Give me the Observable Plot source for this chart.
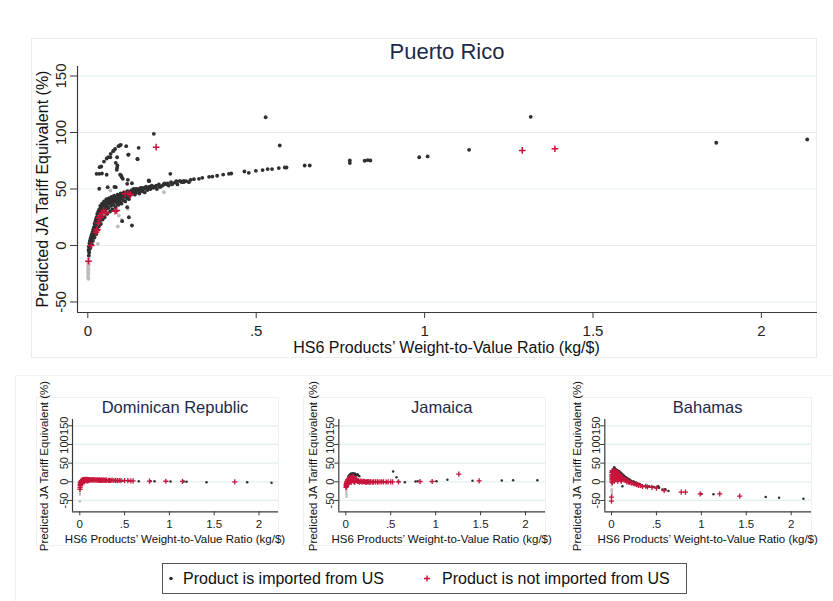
<!DOCTYPE html>
<html><head><meta charset="utf-8">
<script src="https://cdn.jsdelivr.net/npm/d3@7"></script>
<script src="https://cdn.jsdelivr.net/npm/@observablehq/plot@0.6"></script>
<style>
body{margin:0;background:#fff;}
#root{position:relative;width:833px;height:601px;overflow:hidden;background:#fff;font-family:"Liberation Sans",Arial,sans-serif;}
.layer{position:absolute;}
</style></head><body><div id="root"></div>
<script>
// ---- labels ----
const countries = ["Puerto Rico", "Dominican Republic", "Jamaica", "Bahamas"];
const xTicks = [0, 0.5, 1, 1.5, 2];
const xTickLabels = ["0", ".5", "1", "1.5", "2"];
const yTicks = [-50, 0, 50, 100, 150];
const yTickLabels = ["-50", "0", "50", "100", "150"];
const xTitle = "HS6 Products’ Weight-to-Value Ratio (kg/$)";
const yTitle = "Predicted JA Tariff Equivalent (%)";
const legendLabels = ["Product is imported from US", "Product is not imported from US"];

// ---- Puerto Rico ----
const prImported = [
[0.002,-4],[0.003,-9],[0.003,-1],[0.004,-6],[0.005,2],[0.005,-3],[0.006,4],[0.007,0],[0.008,6],[0.008,-2],[0.009,3],[0.010,8],[0.011,5],[0.012,10],[0.012,1],[0.013,7],[0.014,12],[0.015,4],[0.016,14],[0.017,9],[0.018,16],[0.019,11],[0.020,19],[0.020,7],[0.022,21],[0.022,13],[0.024,23],[0.024,16],[0.025,10],[0.026,25],[0.027,19],[0.028,28],[0.029,14],[0.030,22],[0.031,30],[0.032,26],[0.033,17],[0.034,32],[0.035,28],[0.036,22],[0.037,35],[0.038,30],[0.039,19],[0.040,33],[0.041,26],[0.042,37],[0.043,31],[0.044,23],[0.045,36],[0.046,29],[0.048,39],[0.049,33],[0.050,25],[0.052,38],[0.053,31],[0.055,41],[0.056,35],[0.058,28],[0.060,40],[0.061,33],[0.063,42],[0.064,37],[0.066,30],[0.067,41],[0.069,35],[0.070,43],[0.072,38],[0.073,32],[0.075,42],[0.077,36],[0.078,44],[0.080,39],[0.082,34],[0.084,43],[0.086,38],[0.088,45],[0.090,41],[0.091,36],[0.093,44],[0.095,39],[0.097,46],[0.099,42],[0.100,37],[0.103,45],[0.105,40],[0.107,47],[0.109,43],[0.111,39],[0.113,46],[0.115,42],[0.118,48],[0.120,44],[0.122,41],[0.125,47],[0.128,45],[0.131,49],[0.134,46],[0.137,48],[0.140,45],[0.143,50],[0.146,47],[0.150,49],[0.153,46],[0.157,51],[0.161,48],[0.165,50],[0.169,47],[0.173,52],[0.177,49],[0.181,51],[0.186,50],[0.190,53],[0.195,51],[0.200,52],[0.205,50],[0.211,54],[0.216,52],[0.222,53],[0.228,55],[0.234,54],[0.240,53],[0.247,56],[0.253,55],[0.260,56],[0.266,54],[0.272,57],[0.279,56],[0.292,57],[0.300,56],[0.305,58],
[0.021,16],[0.023,18],[0.026,20],[0.028,23],[0.030,26],[0.033,28],[0.035,31],[0.038,33],[0.040,29],[0.043,34],[0.045,32],[0.047,35],[0.050,36],[0.051,30],[0.054,37],[0.057,38],[0.059,34],[0.062,39],[0.065,40],[0.068,38],[0.071,40],[0.074,39],[0.076,41],[0.079,42],[0.081,40],[0.085,41],[0.087,43],[0.092,42],[0.094,41],[0.098,44],[0.102,43],[0.106,44],[0.110,45],[0.114,44],[0.117,46],[0.121,46],[0.124,44],[0.127,48],[0.132,47],[0.136,50],[0.142,48],[0.148,50],[0.155,49],[0.160,51],[0.167,51],[0.175,50],[0.183,52],[0.193,52],[0.203,53],[0.213,52],[0.225,54],[0.237,55],[0.250,54],[0.263,57],[0.285,56],
[0.245,63.4],[0.182,56.9],[0.275,56.9],[0.285,57.2],[0.315,58.7],[0.33,59],[0.34,59.9],[0.36,60.8],[0.37,61],[0.384,61.7],[0.402,62.8],[0.419,63.4],[0.426,63.7],[0.465,65.5],[0.478,64.3],[0.499,66.1],[0.519,66.7],[0.534,67.6],[0.547,67.6],[0.567,68.5],[0.585,69],[0.59,69],[0.644,70.8],[0.659,70.8],[0.778,75.2],[0.778,72.9],[0.822,75],[0.831,75.5],[0.839,75.2],[0.984,78.1],[1.009,78.8],[1.132,84.7],[1.315,113.9],[1.866,90.9],[2.136,93.8],[0.528,113.5],[0.570,88.5],[0.196,98.8],
[0.098,89.1],[0.114,87.9],[0.151,86.4],[0.091,87.9],[0.081,85.5],[0.075,83.5],[0.068,81.1],[0.061,78.2],[0.056,77],[0.048,74.3],[0.040,69.9],[0.121,80.5],[0.148,76.4],[0.083,73.2],[0.088,70.8],[0.086,67],[0.026,63.4],[0.034,63.4],[0.042,63.7],[0.056,62.6],[0.096,62.6],[0.101,60.4],[0.119,58.1],[0.131,55.1],[0.034,50.2],[0.083,51.6],[0.079,51.8],[0.131,17.7],
[0.102,21.5],[0.117,33.9],[0.122,25],[0.089,36.3],[0.059,51.6],[0.035,69.3],[0.095,88.5],[0.087,78.1],[0.087,68.8],[0.099,62],[0.104,59],[0.117,54.6],[0.181,57.5],[0.147,76.7],[0.120,80.3],[0.077,84],[0.067,78.1]
];
const prNotImported = [
[0.002,-13.9],[0.010,0],[0.024,11.8],[0.027,13.3],[0.028,14.2],[0.030,20],[0.034,24.5],[0.037,26.5],[0.038,25],[0.042,28.6],[0.047,31],[0.052,29.5],[0.053,28.6],[0.081,30.4],[0.086,31],[0.111,45.7],[0.119,46.3],[0.126,45.1],[0.203,87],[1.290,84.1],[1.387,85.6]
];
const prOther = [
[0.001,-15],[0.001,-18],[0.001,-20],[0.001,-22],[0.001,-24],[0.001,-26],[0.001,-28],[0.002,-29.5],[0.003,-17],[0.002,-25],[0.002,-21],[0.003,-12],[0.004,-8],[0.006,-3],[0.010,2],[0.015,5],[0.020,8],
[0.119,32.5],[0.089,16.8],[0.067,48.7],[0.226,47.2],[0.101,22.7],[0.092,26.5],[0.030,1.5]
];

// ---- Dominican Republic ----
const drImported = [
[0.658,1.6],[0.789,1.5],[0.834,1.5],[1.012,0.8],[1.161,0.5],[1.191,0],[1.414,-1],[1.868,-1.5],[2.14,-2.3],
[0.30,3],[0.35,3.5],[0.40,3],[0.45,2.5],[0.48,3],[0.55,2.5],[0.20,4],[0.25,3.5]
];
const drNotImported = [
[0.002,-20],[0.003,-15],[0.004,-10],[0.005,-6],[0.006,-3],[0.008,-8],[0.01,0],[0.012,-4],[0.015,2],[0.02,3],[0.025,4],[0.03,5],[0.035,5.5],[0.04,6],[0.05,6],[0.06,6.5],[0.07,6],[0.08,6.5],[0.09,6],[0.1,6],[0.12,5.5],[0.14,6],[0.16,5],[0.18,5.5],[0.2,5],[0.22,5],[0.24,4.5],[0.26,5],[0.28,4.5],[0.3,4.5],[0.33,4],[0.36,4.5],[0.4,4],[0.44,3.5],[0.5,3],[0.536,3],[0.57,2.5],[0.595,2.5],[0.778,2],[0.96,1.5],[1.146,1],[1.73,0],
[0.02,-2],[0.03,0],[0.04,2],[0.05,1],[0.06,3],[0.08,2],[0.1,3],[0.03,-5],
[0.015,-5],[0.018,0],[0.022,1],[0.027,3],[0.045,4],[0.055,5],[0.065,4.5],[0.075,5],[0.085,4],[0.095,5],[0.11,5],[0.13,4.5],[0.15,5],[0.17,4.5],[0.19,4.5],[0.21,4],[0.23,4],[0.25,4],[0.27,4],[0.29,4],[0.32,3.5],[0.345,3.5],[0.38,3.5],[0.42,3],[0.46,3]
];
const drOther = [[0.001,-25],[0.001,-30],[0.002,-35],[0.001,-52],[0.003,-20]];

// ---- Jamaica ----
const jmImported = [
[0.03,15],[0.04,18],[0.05,20],[0.06,22],[0.07,20],[0.08,23],[0.09,21],[0.1,22],[0.11,19],[0.12,18],[0.13,20],[0.14,17],[0.15,15],[0.07,15],[0.1,15],[0.06,12],
[0.527,27.6],[0.564,12.3],[0.586,0.8],[0.657,-1],[0.776,1],[0.80,1.2],[1.009,1.6],[1.131,5.3],[1.41,2.6],[1.736,3.5],[1.862,3.8],[2.132,4.3],[0.3,0],[0.4,0.5],[0.45,-1]
];
const jmNotImported = [
[0.002,-15],[0.004,-10],[0.006,-5],[0.008,-12],[0.01,-8],[0.012,0],[0.015,-3],[0.02,5],[0.02,-6],[0.025,2],[0.03,8],[0.03,-4],[0.04,10],[0.04,0],[0.05,12],[0.05,3],[0.06,6],[0.06,-2],[0.07,10],[0.08,4],[0.08,14],[0.09,0],[0.1,6],[0.1,-1],[0.12,3],[0.12,8],[0.14,2],[0.15,-1],[0.17,2],[0.18,0],[0.2,1],[0.22,-1],[0.24,0],[0.26,-1],[0.28,0],[0.3,-1],[0.33,0],[0.36,-0.5],[0.4,0],[0.45,-0.5],[0.5,0],[0.52,0],[0.586,0],[0.826,0.8],[0.961,0.8],[1.258,20.4],[1.484,2.6],
[0.005,-8],[0.01,-3],[0.015,2],[0.025,-2],[0.035,5],[0.045,7],[0.055,9],[0.065,4],[0.075,6],[0.085,8],[0.095,3],[0.11,4],[0.13,1],[0.16,1],[0.19,0],[0.21,0.5],[0.23,0],[0.25,0.5],[0.27,0],[0.31,0],[0.35,0],[0.38,0],[0.42,0],[0.47,0]
];
const jmOther = [[0.005,-20],[0.006,-25],[0.007,-30],[0.008,-35],[0.008,-40],[0.01,-15]];

// ---- Bahamas ----
const bsImported = [
[0.030,39],[0.035,36],[0.04,34],[0.05,33],[0.06,31],[0.07,30],[0.086,28.4],[0.1,25],[0.12,20],[0.14,16],[0.159,12.3],[0.18,9],[0.197,6.2],[0.22,3],[0.25,0],[0.28,-3],[0.31,-6],[0.345,-12.6],[0.4,-13],[0.45,-14],[0.5,-15],[0.53,-16],[0.52,-12],[0.567,-20.6],[0.6,-20],[0.634,-25],[1.0,-33],[1.135,-33.1],[1.716,-41],[1.865,-43],[2.136,-45.6],[0.122,-11.8],[0.2,6],[0.04,25],[0.06,20],[0.02,30],
[0.045,32],[0.055,30],[0.065,29],[0.075,27],[0.09,25],[0.11,22],[0.13,17],[0.15,13],[0.17,10],[0.19,7],[0.24,1],[0.27,-2],[0.3,-5],[0.33,-9],[0.38,-11],[0.42,-12],[0.47,-14]
];
const bsNotImported = [
[0.002,15],[0.003,5],[0.004,25],[0.005,0],[0.006,20],[0.008,10],[0.01,28],[0.01,-2],[0.012,18],[0.015,5],[0.02,22],[0.02,12],[0.025,30],[0.03,2],[0.03,15],[0.035,25],[0.04,8],[0.04,18],[0.05,22],[0.05,5],[0.06,12],[0.06,28],[0.07,18],[0.07,2],[0.08,10],[0.09,20],[0.1,8],[0.1,15],[0.11,2],[0.12,10],[0.14,5],[0.15,8],[0.17,0],[0.18,3],[0.2,-2],[0.22,-4],[0.25,-6],[0.28,-8],[0.3,-10],[0.345,-12.6],[0.4,-14],[0.45,-15],[0.5,-17],[0.586,-23.3],[0.776,-27.8],[0.823,-27.8],[0.987,-32.3],[1.205,-32.3],[1.427,-38.4],[0.0,-41],[0.0,-52],
[0.015,25],[0.025,20],[0.035,10],[0.045,28],[0.055,15],[0.065,24],[0.075,8],[0.085,16],[0.095,12],[0.105,4],[0.115,12],[0.13,8],[0.16,4],[0.19,0],[0.24,-4],[0.27,-6],[0.32,-10],[0.38,-12],[0.005,10],[0.008,30]
];
const bsOther = [[0.002,-10],[0.003,-20],[0.004,-30],[0.005,-35],[0.003,-5],[0.002,-25]];

// ---- drawing ----
const FONT = '"Liberation Sans", Arial, sans-serif';
const C_IMP = "#2f2f2f", C_NOT = "#c8143c", C_OTH = "#bdbdbd", C_GRID = "#e4eef0", C_AXIS = "#3a3a3a";
const root = document.getElementById("root");

function panel(o) {
  const p = Plot.plot({
    width: o.width, height: o.height,
    marginLeft: o.ml, marginRight: o.mr, marginTop: o.mt, marginBottom: o.mb,
    x: {domain: o.xd}, y: {domain: o.yd},
    style: {fontFamily: FONT, background: "transparent", color: "#222", overflow: "visible"},
    marks: [
      Plot.gridY(yTicks, {stroke: C_GRID, strokeOpacity: 1, strokeWidth: 1.2}),
      Plot.ruleY([o.yd[0]], {stroke: C_AXIS, strokeWidth: 1.2}),
      Plot.ruleX([o.xd[0]], {stroke: C_AXIS, strokeWidth: 1.2}),
      Plot.axisX(xTicks, {tickFormat: d => xTickLabels[xTicks.indexOf(d)], tickSize: o.tsx, tickPadding: o.tpx, fontSize: o.tf, label: null, stroke: C_AXIS, color: "#222"}),
      Plot.axisY(yTicks, {tickFormat: d => yTickLabels[yTicks.indexOf(d)], tickRotate: -90, tickSize: o.tsy, tickPadding: o.tpy, fontSize: o.tfy, label: null, stroke: C_AXIS}),
      Plot.dot(o.other, {x: d => d[0], y: d => d[1], r: o.r, fill: C_OTH}),
      Plot.dot(o.imp, {x: d => d[0], y: d => d[1], r: o.r, fill: C_IMP}),
      Plot.dot(o.not, {x: d => d[0], y: d => d[1], r: o.pr, symbol: "plus", stroke: C_NOT, strokeWidth: o.psw})
    ]
  });
  const div = document.createElement("div");
  div.className = "layer";
  div.style.left = o.left + "px"; div.style.top = o.top + "px";
  div.style.width = o.width + "px"; div.style.height = o.height + "px";
  div.appendChild(p);
  root.appendChild(div);
}

// background overlay: boxes, titles, legend
const ns = "http://www.w3.org/2000/svg";
const bg = document.createElementNS(ns, "svg");
bg.setAttribute("width", 833); bg.setAttribute("height", 601);
bg.setAttribute("class", "layer"); bg.style.left = "0px"; bg.style.top = "0px";
bg.style.fontFamily = FONT;
root.appendChild(bg);
function el(tag, attrs, text) {
  const e = document.createElementNS(ns, tag);
  for (const k in attrs) e.setAttribute(k, attrs[k]);
  if (text != null) e.textContent = text;
  bg.appendChild(e); return e;
}
// frames
el("rect", {x: 31.5, y: 38.5, width: 785, height: 319, fill: "none", stroke: "#e6eef1"});
el("rect", {x: 15.5, y: 375.5, width: 818, height: 226, fill: "none", stroke: "#eef2f4"});
el("rect", {x: 36.5, y: 397.5, width: 242, height: 148, fill: "none", stroke: "#eef2f4"});
el("rect", {x: 303.5, y: 397.5, width: 242, height: 148, fill: "none", stroke: "#eef2f4"});
el("rect", {x: 569.5, y: 397.5, width: 242, height: 148, fill: "none", stroke: "#eef2f4"});

// main titles
el("text", {x: 447, y: 59, "text-anchor": "middle", "font-size": 22, fill: "#1c2a4a"}, countries[0]);
el("text", {x: 446.5, y: 352.5, "text-anchor": "middle", "font-size": 16, fill: "#111"}, xTitle);
el("text", {transform: "translate(47.5,189) rotate(-90)", "text-anchor": "middle", "font-size": 16, fill: "#111"}, yTitle);

// small panels text
const smallCenters = [175, 441.7, 707.7];
const smallYTitleX = [48.3, 316.7, 581];
for (let i = 0; i < 3; i++) {
  el("text", {x: smallCenters[i], y: 413.3, "text-anchor": "middle", "font-size": 16.5, fill: "#1c2a4a"}, countries[i + 1]);
  el("text", {x: smallCenters[i], y: 542.5, "text-anchor": "middle", "font-size": 11.5, fill: "#111"}, xTitle);
  el("text", {transform: `translate(${smallYTitleX[i]},466) rotate(-90)`, "text-anchor": "middle", "font-size": 11.5, fill: "#111"}, yTitle);
}

// legend
el("rect", {x: 162.5, y: 563.5, width: 524, height: 30, fill: "#fff", stroke: "#555"});
el("circle", {cx: 171, cy: 578.5, r: 1.8, fill: C_IMP});
el("text", {x: 183, y: 584, "font-size": 16, fill: "#111"}, legendLabels[0]);
el("path", {d: "M424,578.5h6M427,575.5v6", stroke: C_NOT, "stroke-width": 1.4});
el("text", {x: 442, y: 584, "font-size": 16, fill: "#111"}, legendLabels[1]);

// main panel
panel({left: 0, top: 0, width: 833, height: 370, ml: 77, mr: 16, mt: 66, mb: 58,
  xd: [-0.0306, 2.1666], yd: [-59.3, 158.4], tsx: 6, tpx: 7, tsy: 7, tpy: 5, tf: 15, tfy: 15,
  r: 1.9, pr: 2.3, psw: 1.5, imp: prImported, not: prNotImported, other: prOther});
// small panels
const smallCommon = {top: 370, width: 290, height: 190, mt: 49, mb: 48.7, yd: [-80.4, 166.9],
  tsx: 4, tpx: 4, tsy: 4, tpy: 1, tf: 11.5, tfy: 11, r: 1.25, pr: 1.8, psw: 1.3};
panel({...smallCommon, left: 0, ml: 72, mr: 12, xd: [-0.0815, 2.2176], imp: drImported, not: drNotImported, other: drOther});
panel({...smallCommon, left: 270, ml: 68.3, mr: 15, xd: [-0.0779, 2.2226], imp: jmImported, not: jmNotImported, other: jmOther});
panel({...smallCommon, left: 540, ml: 64.3, mr: 19, xd: [-0.0746, 2.2259], imp: bsImported, not: bsNotImported, other: bsOther});
</script></body></html>
